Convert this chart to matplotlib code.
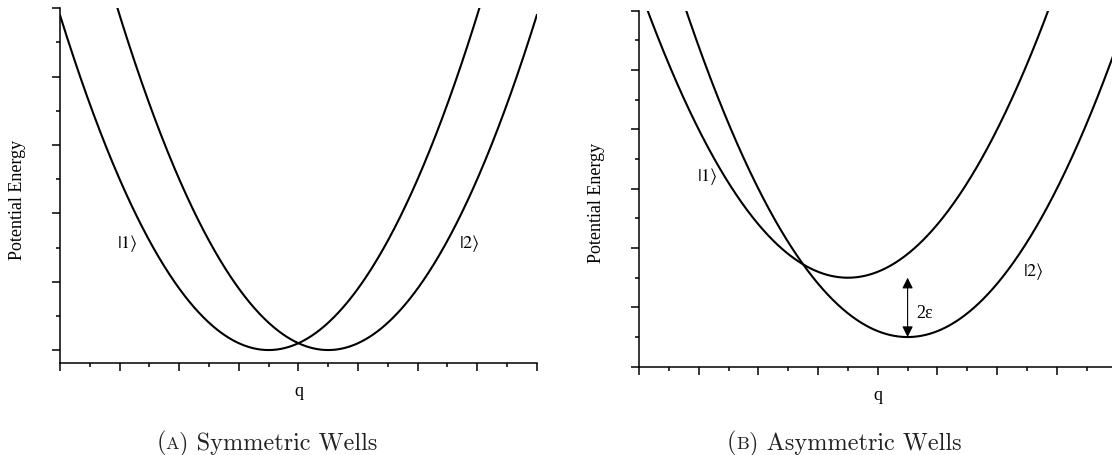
import matplotlib
matplotlib.use('Agg')
import numpy as np
import matplotlib.pyplot as plt
from matplotlib.ticker import MultipleLocator
from matplotlib.offsetbox import TextArea, HPacker, AnnotationBbox

# well parameters (q in tick units, energy in tick units)
sym_centres = [3.5, 4.5]
sym_minima = [0.0, 0.0]
asym_centres = [3.5, 4.5]
asym_minima = [1.5, 0.5]
stiffness = 0.4

sym_labels = [r'$|1\rangle$', r'$|2\rangle$']
sym_label_pos = [(1.12, 1.58), (6.87, 1.58)]
asym_labels = [r'$|1\rangle$', r'$|2\rangle$']
asym_label_pos = [(1.15, 3.22), (6.6, 1.62)]

plt.rcParams['font.family'] = 'serif'
plt.rcParams['font.serif'] = ['Liberation Serif', 'DejaVu Serif']
plt.rcParams['mathtext.fontset'] = 'stix'

fig = plt.figure(figsize=(11.12, 4.56), dpi=100)
ax1 = fig.add_axes([0.05396, 0.2011, 0.4288, 0.7785])
ax2 = fig.add_axes([0.5746, 0.1936, 0.4295, 0.7807])

q = np.linspace(0, 8, 600)


def style_axes(ax):
    ax.spines['top'].set_visible(False)
    ax.spines['right'].set_visible(False)
    ax.spines['left'].set_linewidth(1.1)
    ax.spines['bottom'].set_linewidth(1.1)
    ax.xaxis.set_major_locator(MultipleLocator(1))
    ax.xaxis.set_minor_locator(MultipleLocator(0.5))
    ax.yaxis.set_major_locator(MultipleLocator(1))
    ax.yaxis.set_minor_locator(MultipleLocator(0.5))
    ax.tick_params(which='major', direction='out', length=6, width=1.1,
                   labelbottom=False, labelleft=False)
    ax.tick_params(which='minor', direction='out', length=3, width=1.1)
    ax.text(0.5, -0.077, 'q', transform=ax.transAxes, ha='center',
            va='center', fontsize=13)
    ax.text(-0.0887, 0.464, 'Potential Energy', transform=ax.transAxes,
            rotation=90, ha='center', va='center', fontsize=13)


# (A) symmetric
for c, m in zip(sym_centres, sym_minima):
    ax1.plot(q, stiffness * (q - c) ** 2 + m, color='black', lw=1.5)
for lab, (x, y) in zip(sym_labels, sym_label_pos):
    ax1.text(x, y, lab, ha='center', va='center', fontsize=13)
ax1.set_xlim(0, 8)
ax1.set_ylim(-0.194, 5)
style_axes(ax1)

# (B) asymmetric
for c, m in zip(asym_centres, asym_minima):
    ax2.plot(q, stiffness * (q - c) ** 2 + m, color='black', lw=1.5)
for lab, (x, y) in zip(asym_labels, asym_label_pos):
    ax2.text(x, y, lab, ha='center', va='center', fontsize=13)
ax2.annotate('', xy=(asym_centres[1], asym_minima[0]),
             xytext=(asym_centres[1], asym_minima[1]),
             arrowprops=dict(arrowstyle='<|-|>', color='black', lw=0.8,
                             mutation_scale=16, shrinkA=0, shrinkB=0))
ax2.text(4.64, 0.92, '2ε', ha='left', va='center', fontsize=13)
ax2.set_xlim(0, 8)
ax2.set_ylim(0, 6)
style_axes(ax2)


def caption(letter, rest, x):
    # small caps letter inside the brackets
    big = dict(family='cmr10', size=17.5, color='#222222')
    small = dict(family='cmr10', size=13, color='#222222')
    box = HPacker(children=[TextArea('(', textprops=big),
                            TextArea(letter, textprops=small),
                            TextArea(') ' + rest, textprops=big)],
                  align='baseline', pad=0, sep=0)
    ab = AnnotationBbox(box, (x, 13), xycoords='figure pixels',
                        box_alignment=(0.5, 0.5), frameon=False)
    fig.add_artist(ab)


caption('A', 'Symmetric Wells', 267)
caption('B', 'Asymmetric Wells', 844)

fig.savefig('out.png', dpi=100)
